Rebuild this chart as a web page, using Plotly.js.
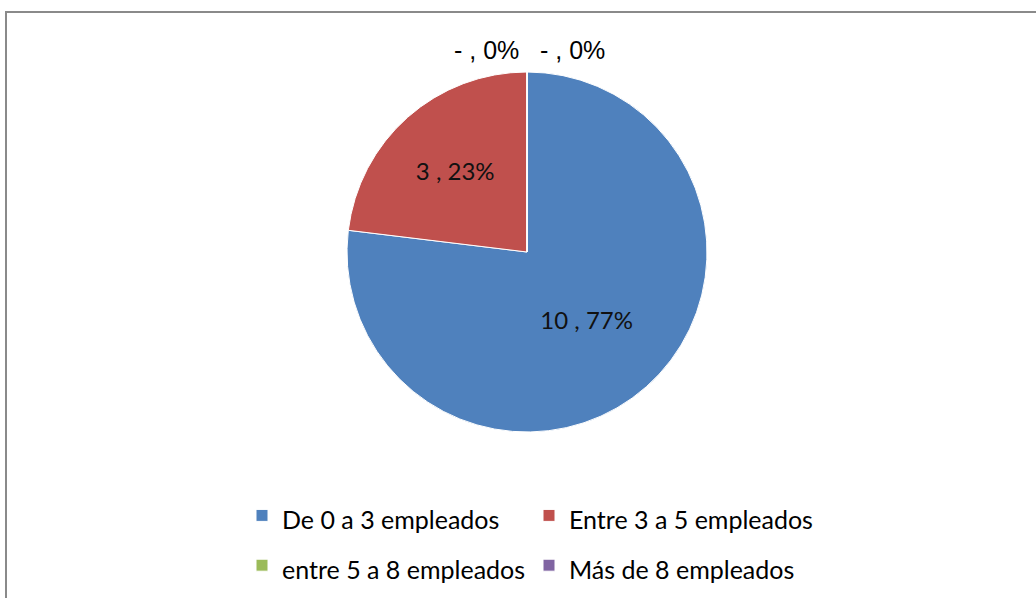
<!DOCTYPE html>
<html><head><meta charset="utf-8">
<script src="https://cdn.plot.ly/plotly-3.0.1.min.js"></script>
<style>html,body{margin:0;padding:0;background:#fff}#chart{width:1036px;height:598px}</style>
</head><body><div id="chart"></div>
<script>
const categories = ["De 0 a 3 empleados", "Entre 3 a 5 empleados", "entre 5 a 8 empleados", "Más de 8 empleados"];
const values = [10, 3, 0, 0];
const colors = ["#4F81BD", "#C0504D", "#9BBB59", "#8064A2"];

const total = values.reduce((a, b) => a + b, 0);
const shown = values.map(v => v === 0 ? "-" : String(v));
const pct = values.map(v => Math.round(100 * v / total) + "%");
const labelText = values.map((v, i) => shown[i] + " , " + pct[i]);

const W = 1036, H = 598;
// plot area: l=200, r=230 so the horizontal legend wraps after two entries
const ML = 200, MR = 230, PW = W - ML - MR;
const px = v => (v - ML) / PW;
const py = v => 1 - v / H;

const legendLabels = categories.map(c => '<span style="font-size:25px">' + c + '</span>');

const trace = {
  type: 'pie',
  labels: legendLabels,
  values: values,
  text: labelText,
  textinfo: 'text',
  textposition: values.map(v => v === 0 ? 'none' : 'inside'),
  insidetextorientation: 'horizontal',
  insidetextfont: {family: 'Lato, Carlito, sans-serif', size: 24, color: '#111'},
  sort: false,
  direction: 'clockwise',
  rotation: 0,
  marker: {colors: colors, line: {color: '#ffffff', width: 1}},
  domain: {x: [px(347), px(707)], y: [py(432), py(72)]},
  hoverinfo: 'value+percent'
};

const zeroIdx = values.map((v, i) => v === 0 ? i : -1).filter(i => i >= 0);
const zeroX = [486, 572];
const annotations = zeroIdx.map((idx, k) => ({
  xref: 'paper', yref: 'paper', x: px(zeroX[k]), y: py(50),
  xanchor: 'center', yanchor: 'middle',
  text: labelText[idx], showarrow: false,
  font: {family: '"Liberation Sans Narrow", "Liberation Sans", Arial, sans-serif', size: 25, color: '#000'}
}));

const layout = {
  width: W, height: H,
  margin: {l: ML, r: MR, t: 0, b: 0, pad: 0},
  paper_bgcolor: '#ffffff',
  plot_bgcolor: '#ffffff',
  showlegend: true,
  legend: {
    orientation: 'h', xanchor: 'left', x: px(242), yanchor: 'top', y: py(485.5),
    entrywidth: 242, entrywidthmode: 'pixels',
    font: {family: 'Lato, Carlito, sans-serif', size: 36, color: '#000'},
    bgcolor: 'rgba(0,0,0,0)', traceorder: 'normal'
  },
  annotations: annotations,
  shapes: [{
    type: 'rect', xref: 'paper', yref: 'paper', layer: 'below',
    x0: px(6), x1: px(1045), y0: py(12), y1: py(610),
    line: {color: '#8a8a8a', width: 2}, fillcolor: 'rgba(0,0,0,0)'
  }]
};

Plotly.newPlot('chart', [trace], layout, {displayModeBar: false, staticPlot: true});
</script>
</body></html>
